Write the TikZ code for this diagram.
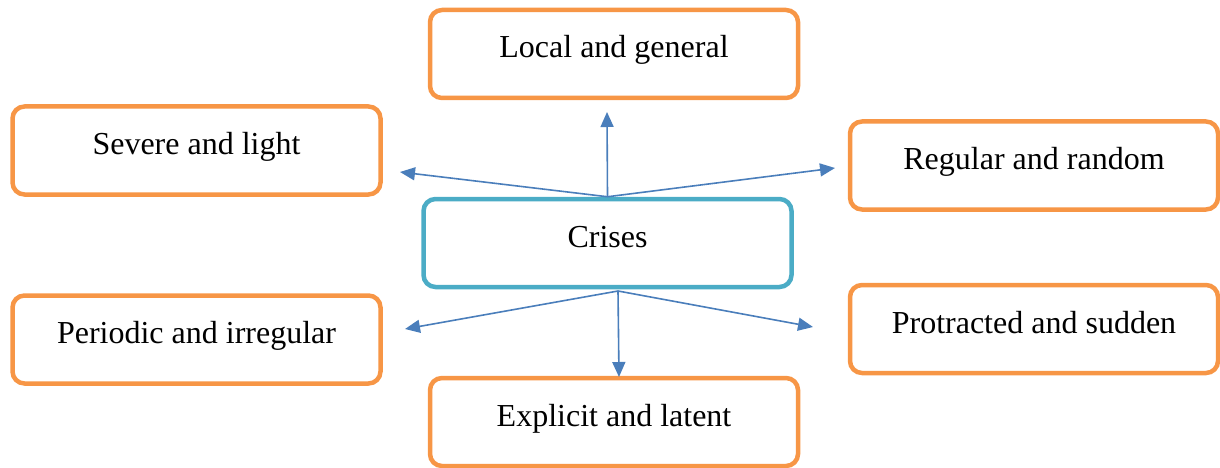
\documentclass[tikz,border=0pt]{standalone}
\usepackage{fontspec}
\setmainfont{Liberation Serif}
\usetikzlibrary{arrows.meta}
\definecolor{boxorange}{HTML}{F79646}
\definecolor{boxteal}{HTML}{4BACC6}
\definecolor{arrowblue}{HTML}{4A7EBB}
\tikzset{
    kind/.style={draw=boxorange, line width=4.5pt, rounded corners=12pt, fill=white,
        minimum width=368pt, minimum height=88pt, inner sep=0pt,
        text height=22pt, text depth=14pt, font=\fontsize{32}{38}\selectfont},
    centre/.style={kind, draw=boxteal},
    link/.style={draw=arrowblue, line width=1.6pt, -{Triangle[length=15pt,width=13pt]}}
}
\begin{document}
\begin{tikzpicture}[x=1pt, y=-1pt]
        \useasboundingbox (0, 0) rectangle (1220, 468);
        \node[centre] (c) at (607.5, 243) {Crises};
        \node[kind] (k1) at (614, 54) {Local and general};
        \node[kind] (k2) at (196.5, 150.5) {Severe and light};
        \node[kind] (k3) at (1034, 165.5) {Regular and random};
        \node[kind] (k4) at (196.5, 339.5) {Periodic and irregular};
        \node[kind] (k5) at (1034, 329) {Protracted and sudden};
        \node[kind] (k6) at (614, 422) {Explicit and latent};
        
        \coordinate (t1) at (607, 112);
        \coordinate (t2) at (400, 172);
        \coordinate (t3) at (835, 168);
        \coordinate (t4) at (405, 329);
        \coordinate (t5) at (619, 377);
        \coordinate (t6) at (813, 327);
        \coordinate (cs) at (618, 291);
        
        \draw[link] (c.north) -- (t1);
        \draw[link] (c.north) -- (t2);
        \draw[link] (c.north) -- (t3);
        \draw[link] (cs) -- (t4);
        \draw[link] (cs) -- (t5);
        \draw[link] (cs) -- (t6);
    \end{tikzpicture}
\end{document}
